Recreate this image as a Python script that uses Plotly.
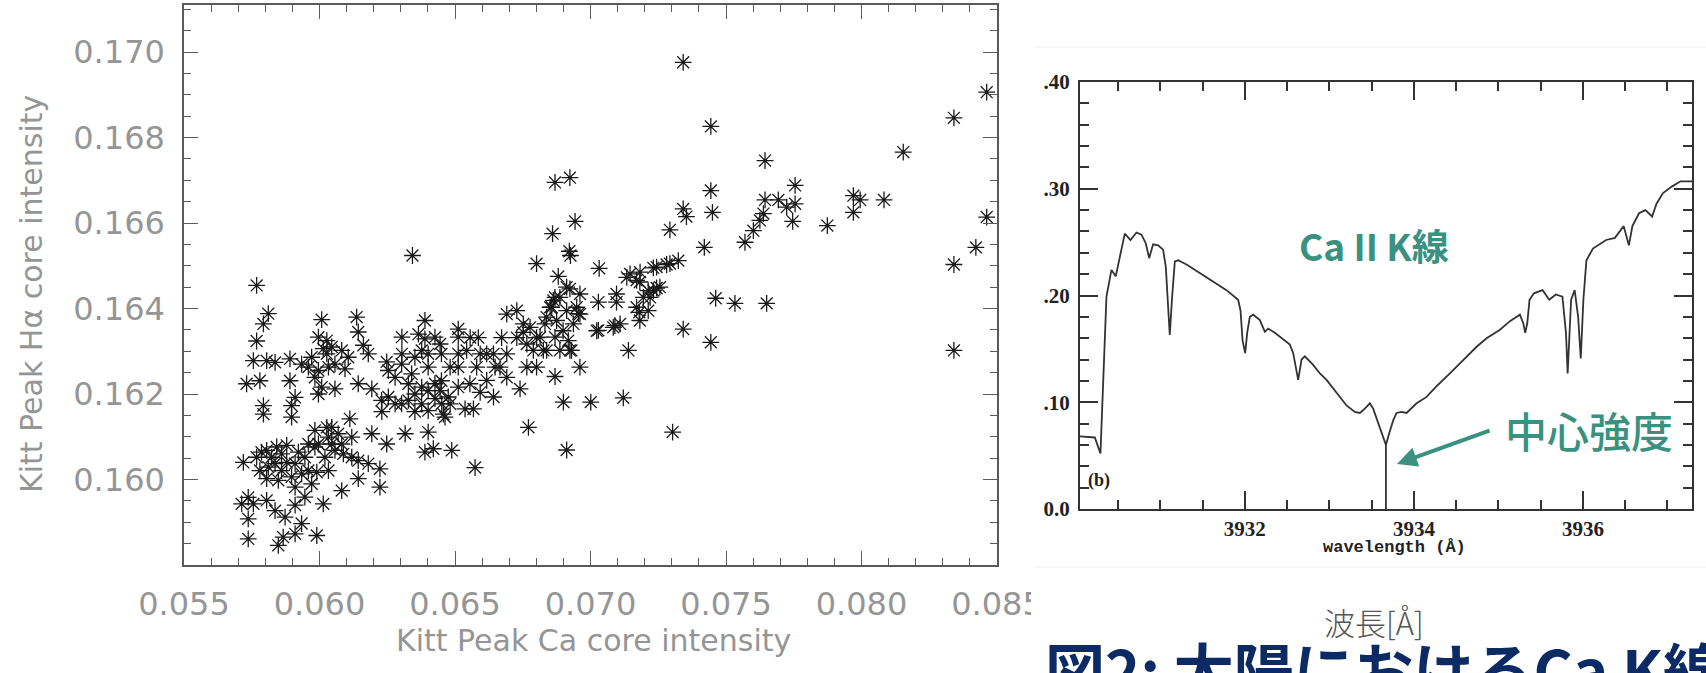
import plotly.graph_objects as go

# ---------------- data: left scatter (Kitt Peak core intensities) ----------------
ca_core = [
    0.07342, 0.07444, 0.08462, 0.08341, 0.08154, 0.07644, 0.06869, 0.06924, 0.07755, 0.07444,
    0.07970, 0.07995, 0.08083, 0.07970, 0.07644, 0.07693, 0.07724, 0.07755, 0.07638, 0.07625,
    0.07746, 0.07601, 0.07874, 0.07570, 0.07342, 0.07354, 0.07450, 0.07293, 0.06943, 0.06860,
    0.06922, 0.06926, 0.07420, 0.08462, 0.08422, 0.08341, 0.06881, 0.07032, 0.07324, 0.07281,
    0.07232, 0.07183, 0.07146, 0.07170, 0.07244, 0.07220, 0.07180, 0.07096, 0.07029, 0.07096,
    0.06924, 0.06961, 0.07462, 0.07533, 0.07650, 0.07342, 0.07029, 0.07090, 0.06955, 0.06863,
    0.07444, 0.07140, 0.06961, 0.06869, 0.06900, 0.07001, 0.07121, 0.07303, 0.06912, 0.08341,
    0.06924, 0.06838,
    0.05768, 0.05811, 0.05793, 0.06008, 0.06137, 0.06143, 0.06162, 0.05768, 0.06014, 0.06045,
    0.06082, 0.05756, 0.05805, 0.05836, 0.05891, 0.05731, 0.05780, 0.05891, 0.05959, 0.05996,
    0.06033, 0.06094, 0.06008, 0.06057, 0.05996, 0.06143, 0.06193, 0.05793, 0.05793, 0.05897,
    0.05897, 0.05910, 0.06112, 0.06045, 0.06193, 0.06316, 0.06248, 0.05719, 0.05786, 0.05823,
    0.05860, 0.05811, 0.05860, 0.05910, 0.05897, 0.05946, 0.05959, 0.05996, 0.06033, 0.06057,
    0.06020, 0.06082, 0.05990, 0.05971, 0.06119, 0.06143, 0.06180, 0.06223, 0.06223, 0.06143,
    0.06082, 0.06014, 0.05737, 0.05756, 0.05805, 0.05836, 0.05873, 0.05910, 0.05737, 0.05737,
    0.05866, 0.05910, 0.05934, 0.05990, 0.05848, 0.05713, 0.05946,
    0.06304, 0.06389, 0.06512, 0.06248, 0.06304, 0.06377, 0.06450, 0.06512, 0.06279, 0.06340,
    0.06401, 0.06450, 0.06512, 0.06512, 0.06229, 0.06279, 0.06328, 0.06377, 0.06426, 0.06463,
    0.06352, 0.06401, 0.06401, 0.06389, 0.06420, 0.06488,
    0.06445, 0.06512, 0.06556, 0.06586, 0.06672, 0.06593, 0.06642, 0.06691, 0.06580, 0.06648,
    0.06691, 0.06740, 0.06765, 0.06801, 0.06593, 0.06642, 0.06537, 0.06568, 0.06457, 0.06445,
    0.06691, 0.06728, 0.06752, 0.06801, 0.06838, 0.06857, 0.06869, 0.06875, 0.06899, 0.06918,
    0.06930, 0.06949, 0.06961, 0.06912, 0.06826, 0.06777, 0.07023, 0.07084, 0.07109, 0.07182,
    0.07213, 0.07232, 0.07182, 0.07213, 0.07256, 0.07244, 0.07293,
    0.06574, 0.06343, 0.06801, 0.06771,
    0.05805, 0.05842, 0.05879, 0.05836, 0.05879, 0.05922, 0.05934, 0.05848, 0.05805, 0.05768,
    0.05910, 0.05780, 0.05983, 0.06027, 0.06069, 0.06045, 0.05983, 0.06088, 0.06033, 0.05959,
    0.06119, 0.06254, 0.06303, 0.06352, 0.06401, 0.06328, 0.06377, 0.06426, 0.06401, 0.06451,
    0.06303, 0.06254, 0.06230, 0.06352, 0.06475, 0.06365, 0.06426, 0.06389, 0.05934, 0.05971,
    0.05983, 0.06027, 0.06057, 0.05996, 0.06027, 0.06106, 0.06180, 0.06851, 0.06832, 0.06869,
    0.06887, 0.06814, 0.06912, 0.06937, 0.06887, 0.06752, 0.06789, 0.06765, 0.06728, 0.06617,
    0.06666, 0.06617, 0.06555, 0.06482, 0.06482, 0.06543, 0.07134, 0.07195, 0.07170,
]
ha_core = [
    0.16976, 0.16826, 0.16906, 0.16846, 0.16766, 0.16746, 0.16695, 0.16706, 0.16688, 0.16676,
    0.16664, 0.16654, 0.16654, 0.16625, 0.16654, 0.16654, 0.16637, 0.16645, 0.16622, 0.16606,
    0.16604, 0.16582, 0.16594, 0.16555, 0.16633, 0.16615, 0.16625, 0.16584, 0.16604, 0.16575,
    0.16534, 0.16524, 0.16543, 0.16614, 0.16543, 0.16503, 0.16475, 0.16494, 0.16512, 0.16503,
    0.16495, 0.16485, 0.16481, 0.16466, 0.16448, 0.16426, 0.16391, 0.16434, 0.16415, 0.16415,
    0.16446, 0.16434, 0.16424, 0.16412, 0.16412, 0.16352, 0.16349, 0.16360, 0.16388, 0.16419,
    0.16321, 0.16302, 0.16263, 0.16241, 0.16181, 0.16181, 0.16191, 0.16111, 0.16069, 0.16302,
    0.16302, 0.16302,
    0.16454, 0.16388, 0.16364, 0.16374, 0.16380, 0.16345, 0.16314, 0.16324, 0.16306, 0.16310,
    0.16302, 0.16278, 0.16278, 0.16274, 0.16282, 0.16224, 0.16231, 0.16231, 0.16263, 0.16255,
    0.16263, 0.16259, 0.16216, 0.16212, 0.16200, 0.16224, 0.16212, 0.16173, 0.16153, 0.16173,
    0.16146, 0.16192, 0.16142, 0.16122, 0.16107, 0.16107, 0.16083, 0.16040, 0.16064, 0.16052,
    0.16060, 0.16029, 0.16021, 0.16037, 0.16006, 0.16052, 0.16021, 0.16083, 0.16099, 0.16068,
    0.16052, 0.16083, 0.16017, 0.15990, 0.16052, 0.16044, 0.16037, 0.16025, 0.15982, 0.16002,
    0.15974, 0.15943, 0.15958, 0.15943, 0.15951, 0.15927, 0.15912, 0.15940, 0.15908, 0.15861,
    0.15865, 0.15873, 0.15897, 0.15869, 0.15846, 0.15943, 0.15959,
    0.16333, 0.16329, 0.16333, 0.16275, 0.16294, 0.16302, 0.16294, 0.16294, 0.16239, 0.16247,
    0.16263, 0.16231, 0.16263, 0.16216, 0.16185, 0.16177, 0.16185, 0.16177, 0.16189, 0.16146,
    0.16200, 0.16208, 0.16111, 0.16064, 0.16072, 0.16068,
    0.16317, 0.16352, 0.16332, 0.16332, 0.16332, 0.16294, 0.16294, 0.16294, 0.16263, 0.16263,
    0.16239, 0.16212, 0.16263, 0.16263, 0.16204, 0.16193, 0.16165, 0.16165, 0.16153, 0.16208,
    0.16387, 0.16395, 0.16344, 0.16332, 0.16380, 0.16403, 0.16426, 0.16372, 0.16348, 0.16325,
    0.16302, 0.16403, 0.16387, 0.16450, 0.16302, 0.16356, 0.16348, 0.16356, 0.16364, 0.16462,
    0.16442, 0.16442, 0.16372, 0.16395, 0.16450, 0.16497, 0.16505,
    0.16028, 0.16524, 0.16505, 0.16122,
    0.16068, 0.16076, 0.16080, 0.16037, 0.16040, 0.16064, 0.16013, 0.15998, 0.16002, 0.16052,
    0.15982, 0.16021, 0.16115, 0.16122, 0.16107, 0.16083, 0.16076, 0.16060, 0.16021, 0.16083,
    0.16099, 0.16255, 0.16270, 0.16286, 0.16294, 0.16224, 0.16216, 0.16224, 0.16161, 0.16177,
    0.16177, 0.16193, 0.16159, 0.16159, 0.16193, 0.16340, 0.16333, 0.16372, 0.16270, 0.16286,
    0.16239, 0.16294, 0.16270, 0.16333, 0.16325, 0.16286, 0.16294, 0.16403, 0.16364, 0.16333,
    0.16302, 0.16333, 0.16395, 0.16364, 0.16426, 0.16364, 0.16302, 0.16317, 0.16332, 0.16294,
    0.16263, 0.16232, 0.16224, 0.16177, 0.16263, 0.16302, 0.16473, 0.16426, 0.16403,
]
scatter_xticks = [0.055, 0.060, 0.065, 0.070, 0.075, 0.080, 0.085]
scatter_yticks = [0.160, 0.162, 0.164, 0.166, 0.168, 0.170]

# ---------------- data: right spectrum (Ca II K line) ----------------
wavelength = [
    3930.05, 3930.225, 3930.292, 3930.323, 3930.363, 3930.422, 3930.473, 3930.521, 3930.580, 3930.647,
    3930.718, 3930.777, 3930.828, 3930.868, 3930.915, 3930.974, 3931.033, 3931.065, 3931.093, 3931.112,
    3931.140, 3931.172, 3931.211, 3931.310, 3931.467, 3931.625, 3931.783, 3931.921, 3931.949, 3931.973,
    3932.004, 3932.028, 3932.059, 3932.099, 3932.178, 3932.237, 3932.276, 3932.355, 3932.434, 3932.533,
    3932.572, 3932.611, 3932.631, 3932.671, 3932.710, 3932.809, 3932.888, 3932.967, 3933.045, 3933.124,
    3933.203, 3933.302, 3933.361, 3933.420, 3933.479, 3933.518, 3933.566, 3933.617, 3933.669, 3933.669,
    3933.669, 3933.708, 3933.755, 3933.795, 3933.854, 3933.913, 3933.972, 3934.032, 3934.150, 3934.268,
    3934.426, 3934.584, 3934.742, 3934.860, 3935.018, 3935.136, 3935.254, 3935.294, 3935.317, 3935.341,
    3935.368, 3935.420, 3935.523, 3935.601, 3935.679, 3935.757, 3935.799, 3935.819, 3935.860, 3935.902,
    3935.943, 3935.974, 3936.005, 3936.041, 3936.118, 3936.274, 3936.378, 3936.482, 3936.543, 3936.585,
    3936.663, 3936.740, 3936.818, 3936.870, 3936.947, 3937.051, 3937.154, 3937.29,
]
intensity = [
    0.068, 0.067, 0.052, 0.121, 0.199, 0.224, 0.218, 0.236, 0.258, 0.252,
    0.259, 0.257, 0.249, 0.235, 0.248, 0.247, 0.243, 0.227, 0.183, 0.163,
    0.199, 0.232, 0.233, 0.229, 0.221, 0.213, 0.205, 0.196, 0.186, 0.158,
    0.146, 0.165, 0.180, 0.182, 0.177, 0.166, 0.169, 0.165, 0.160, 0.154,
    0.146, 0.127, 0.121, 0.140, 0.143, 0.135, 0.127, 0.121, 0.113, 0.105,
    0.097, 0.091, 0.090, 0.094, 0.099, 0.094, 0.083, 0.071, 0.060, 0.0,
    0.060, 0.071, 0.083, 0.090, 0.091, 0.090, 0.094, 0.099, 0.105, 0.115,
    0.127, 0.140, 0.152, 0.160, 0.168, 0.176, 0.182, 0.174, 0.165, 0.174,
    0.196, 0.202, 0.205, 0.196, 0.201, 0.199, 0.165, 0.127, 0.196, 0.205,
    0.180, 0.141, 0.196, 0.233, 0.244, 0.252, 0.254, 0.265, 0.247, 0.265,
    0.277, 0.280, 0.274, 0.286, 0.296, 0.302, 0.307, 0.307,
]
spec_xticks = [3932, 3934, 3936]
spec_tickvals = [0.0, 0.1, 0.2, 0.3, 0.4]
spec_ticktext = ["0.0", ".10", ".20", ".30", ".40"]

# ---------------- layout helpers ----------------
W, H = 1706, 673
def px(x):
    return x / W
def py(y):
    return 1 - y / H

GREY = "#5a5a5a"
TEAL = "#3a917f"
LIGHT_GREY_TXT = "#959595"
LEFT_FONT = dict(family="DejaVu Sans", size=32, color=LIGHT_GREY_TXT)
SERIF = dict(family="Liberation Serif", size=21, color="#222222", weight="bold")

fig = go.Figure()
fig.add_trace(go.Scatter(
    x=ca_core, y=ha_core, mode="markers", xaxis="x", yaxis="y",
    marker=dict(symbol="asterisk-open", size=14, color="#1a1a1a",
                line=dict(width=1.3, color="#1a1a1a")),
    hoverinfo="skip",
))
fig.add_trace(go.Scatter(
    x=wavelength, y=intensity, mode="lines", xaxis="x2", yaxis="y2",
    line=dict(color="#333333", width=1.8), hoverinfo="skip",
))

fig.update_layout(
    width=W, height=H, margin=dict(l=0, r=0, t=0, b=0, autoexpand=False),
    paper_bgcolor="white", plot_bgcolor="white", showlegend=False,
    xaxis=dict(
        domain=[px(184), px(997)], range=[0.055, 0.085], anchor="y", automargin=False,
        showline=True, linecolor=GREY, linewidth=1.5, mirror="ticks",
        ticks="inside", ticklen=14, tickwidth=1.3, tickcolor=GREY,
        tickmode="array", tickvals=scatter_xticks, tickformat=".3f",
        minor=dict(ticks="inside", tickmode="linear", tick0=0.055, dtick=0.001,
                   ticklen=7, tickwidth=1.2, tickcolor=GREY),
        showgrid=False, zeroline=False, tickfont=LEFT_FONT, ticklabelstandoff=10,
    ),
    yaxis=dict(
        domain=[py(565), py(5)], range=[0.158, 0.1711], anchor="x", automargin=False,
        showline=True, linecolor=GREY, linewidth=1.5, mirror="ticks",
        ticks="inside", ticklen=14, tickwidth=1.3, tickcolor=GREY,
        tickmode="array", tickvals=scatter_yticks, tickformat=".3f",
        minor=dict(ticks="inside", tickmode="linear", tick0=0.158, dtick=0.0005,
                   ticklen=7, tickwidth=1.2, tickcolor=GREY),
        showgrid=False, zeroline=False, tickfont=LEFT_FONT, ticklabelstandoff=11,
    ),
    xaxis2=dict(
        domain=[px(1080), px(1692)], range=[3930.05, 3937.29], anchor="y2", automargin=False,
        showline=True, linecolor="#333333", linewidth=2, mirror="ticks",
        ticks="inside", ticklen=18, tickwidth=2, tickcolor="#333333",
        tickmode="array", tickvals=spec_xticks, tickformat="d",
        minor=dict(ticks="inside", tickmode="linear", dtick=0.5, tick0=3930,
                   ticklen=9, tickwidth=1.8, tickcolor="#333333"),
        showgrid=False, zeroline=False, tickfont=SERIF, ticklabelstandoff=0,
    ),
    yaxis2=dict(
        domain=[py(509), py(82)], range=[0.0, 0.40], anchor="x2", automargin=False,
        showline=True, linecolor="#333333", linewidth=2, mirror="ticks",
        ticks="inside", ticklen=18, tickwidth=2, tickcolor="#333333",
        tickmode="array", tickvals=spec_tickvals, ticktext=spec_ticktext,
        minor=dict(ticks="inside", tickmode="linear", tick0=0, dtick=0.02,
                   ticklen=9, tickwidth=1.8, tickcolor="#333333"),
        showgrid=False, zeroline=False, tickfont=SERIF, ticklabelstandoff=4,
    ),
)

annotations = [
    dict(text="Kitt Peak Ca core intensity", x=px(593), y=py(640),
         font=dict(family="DejaVu Sans", size=30, color=LIGHT_GREY_TXT)),
    dict(text="Kitt Peak Hα core intensity", x=px(31), y=py(294), textangle=-90,
         font=dict(family="DejaVu Sans", size=30, color=LIGHT_GREY_TXT)),
    dict(text="Ca II K線", x=px(1374), y=py(245),
         font=dict(family="Noto Sans CJK JP", size=37, color=TEAL, weight="bold")),
    dict(text="中心強度", x=px(1589), y=py(430),
         font=dict(family="Noto Sans CJK JP", size=42, color=TEAL, weight=500)),
    dict(text="(b)", x=px(1099), y=py(480),
         font=dict(family="Liberation Serif", size=18, color="#222222", weight="bold")),
    dict(text="wavelength (Å)", x=px(1394), y=py(547),
         font=dict(family="Liberation Mono", size=17, color="#222222", weight="bold")),
    dict(text="波長[Å]", x=px(1374), y=py(621),
         font=dict(family="Noto Sans CJK JP", size=31, color="#555555", weight=300)),
]
for a in annotations:
    a.update(xref="paper", yref="paper", showarrow=False, xanchor="center", yanchor="middle")
    fig.add_annotation(**a)

# figure caption, cropped at the bottom edge like the source
fig.add_annotation(text="図2: 太陽におけるCa K線", x=px(1043), y=py(622),
                   xref="paper", yref="paper", showarrow=False,
                   xanchor="left", yanchor="top",
                   font=dict(family="Noto Sans CJK JP", size=60, color="#0c2b64", weight="bold"))

# arrow pointing at the line core
fig.add_annotation(x=px(1397), y=py(464), xref="paper", yref="paper",
                   ax=94, ay=-34, axref="pixel", ayref="pixel", text="",
                   showarrow=True, arrowhead=2, arrowsize=1.0, arrowwidth=4,
                   arrowcolor=TEAL)

# white panel edge that clips the last x label, and faint image borders
fig.add_shape(type="rect", xref="paper", yref="paper", x0=px(1031), x1=px(1072),
              y0=py(640), y1=py(572), fillcolor="white", line=dict(width=0), layer="above")
fig.add_shape(type="line", xref="paper", yref="paper", x0=px(1035), x1=1,
              y0=py(47), y1=py(47), line=dict(color="#eeeeee", width=1))
fig.add_shape(type="line", xref="paper", yref="paper", x0=px(1035), x1=1,
              y0=py(567), y1=py(567), line=dict(color="#eeeeee", width=1))

fig.write_html("out.html", config={"displayModeBar": False},
               post_script="document.body.style.margin='0';document.body.style.overflow='hidden';")
